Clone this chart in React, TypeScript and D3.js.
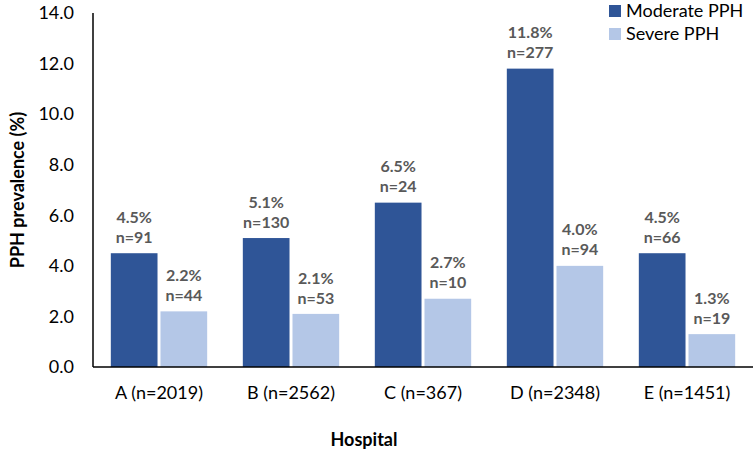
import React from "react";
import * as d3 from "d3";

const categories = ["A (n=2019)", "B (n=2562)", "C (n=367)", "D (n=2348)", "E (n=1451)"];
const seriesNames = ["Moderate PPH", "Severe PPH"];
const moderateValues = [4.5, 5.1, 6.5, 11.8, 4.5];
const severeValues = [2.2, 2.1, 2.7, 4.0, 1.3];
const moderateCounts = [91, 130, 24, 277, 66];
const severeCounts = [44, 53, 10, 94, 19];
const yTicks = [0, 2, 4, 6, 8, 10, 12, 14];
const colors = ["#2F5597", "#B4C7E7"];

const W = 753;
const H = 452;
const FONT = "Lato, 'Open Sans', sans-serif";

export default function App() {
  const x = d3.scaleBand<string>().domain(categories).range([93, 753]).paddingInner(0.27).paddingOuter(0.135);
  const xs = d3.scaleBand<string>().domain(seriesNames).range([0, x.bandwidth()]).paddingInner(0.06);
  const y = d3.scaleLinear().domain([0, 14]).range([367, 13]);

  const values = [moderateValues, severeValues];
  const counts = [moderateCounts, severeCounts];

  return (
    <svg width={W} height={H} style={{ position: "absolute", left: 0, top: 0, background: "#fff" }} fontFamily={FONT}>
      {/* y ticks */}
      {yTicks.map((t) => (
        <text key={t} x={74} y={y(t)} dy="0.35em" textAnchor="end" fontSize={18} fill="#000">
          {d3.format(".1f")(t)}
        </text>
      ))}
      {/* bars */}
      {categories.map((c, i) => (
        <g key={c} transform={`translate(${x(c)},0)`}>
          {seriesNames.map((s, k) => {
            const v = values[k][i];
            const bx = xs(s)!;
            const cx = bx + xs.bandwidth() / 2;
            return (
              <g key={s}>
                <rect x={bx} y={y(v)} width={xs.bandwidth()} height={y(0) - y(v)} fill={colors[k]} />
                <text x={cx} y={y(v) - 36} dy="0.35em" textAnchor="middle" fontSize={16} fontWeight="bold" fill="#595959">
                  {d3.format(".1f")(v) + "%"}
                </text>
                <text x={cx} y={y(v) - 16} dy="0.35em" textAnchor="middle" fontSize={16} fontWeight="bold" fill="#595959">
                  {"n=" + counts[k][i]}
                </text>
              </g>
            );
          })}
          <text x={x.bandwidth() / 2} y={393} dy="0.35em" textAnchor="middle" fontSize={18} fill="#000">
            {c}
          </text>
        </g>
      ))}
      {/* axes */}
      <line x1={93} x2={93} y1={13} y2={367} stroke="#000" strokeWidth={1.5} />
      <line x1={93} x2={753} y1={367} y2={367} stroke="#000" strokeWidth={1.5} />
      {/* axis titles */}
      <text transform={`translate(18,190) rotate(-90)`} dy="0.35em" textAnchor="middle" fontSize={18} fontWeight="bold" fill="#000">
        PPH prevalence (%)
      </text>
      <text x={364} y={440} dy="0.35em" textAnchor="middle" fontSize={18} fontWeight="bold" fill="#000">
        Hospital
      </text>
      {/* legend */}
      {seriesNames.map((s, k) => (
        <g key={s} transform={`translate(609,${5 + k * 23})`}>
          <rect x={0} y={0} width={12} height={12} fill={colors[k]} />
          <text x={17} y={6} dy="0.35em" fontSize={18} fill="#000">
            {s}
          </text>
        </g>
      ))}
    </svg>
  );
}
